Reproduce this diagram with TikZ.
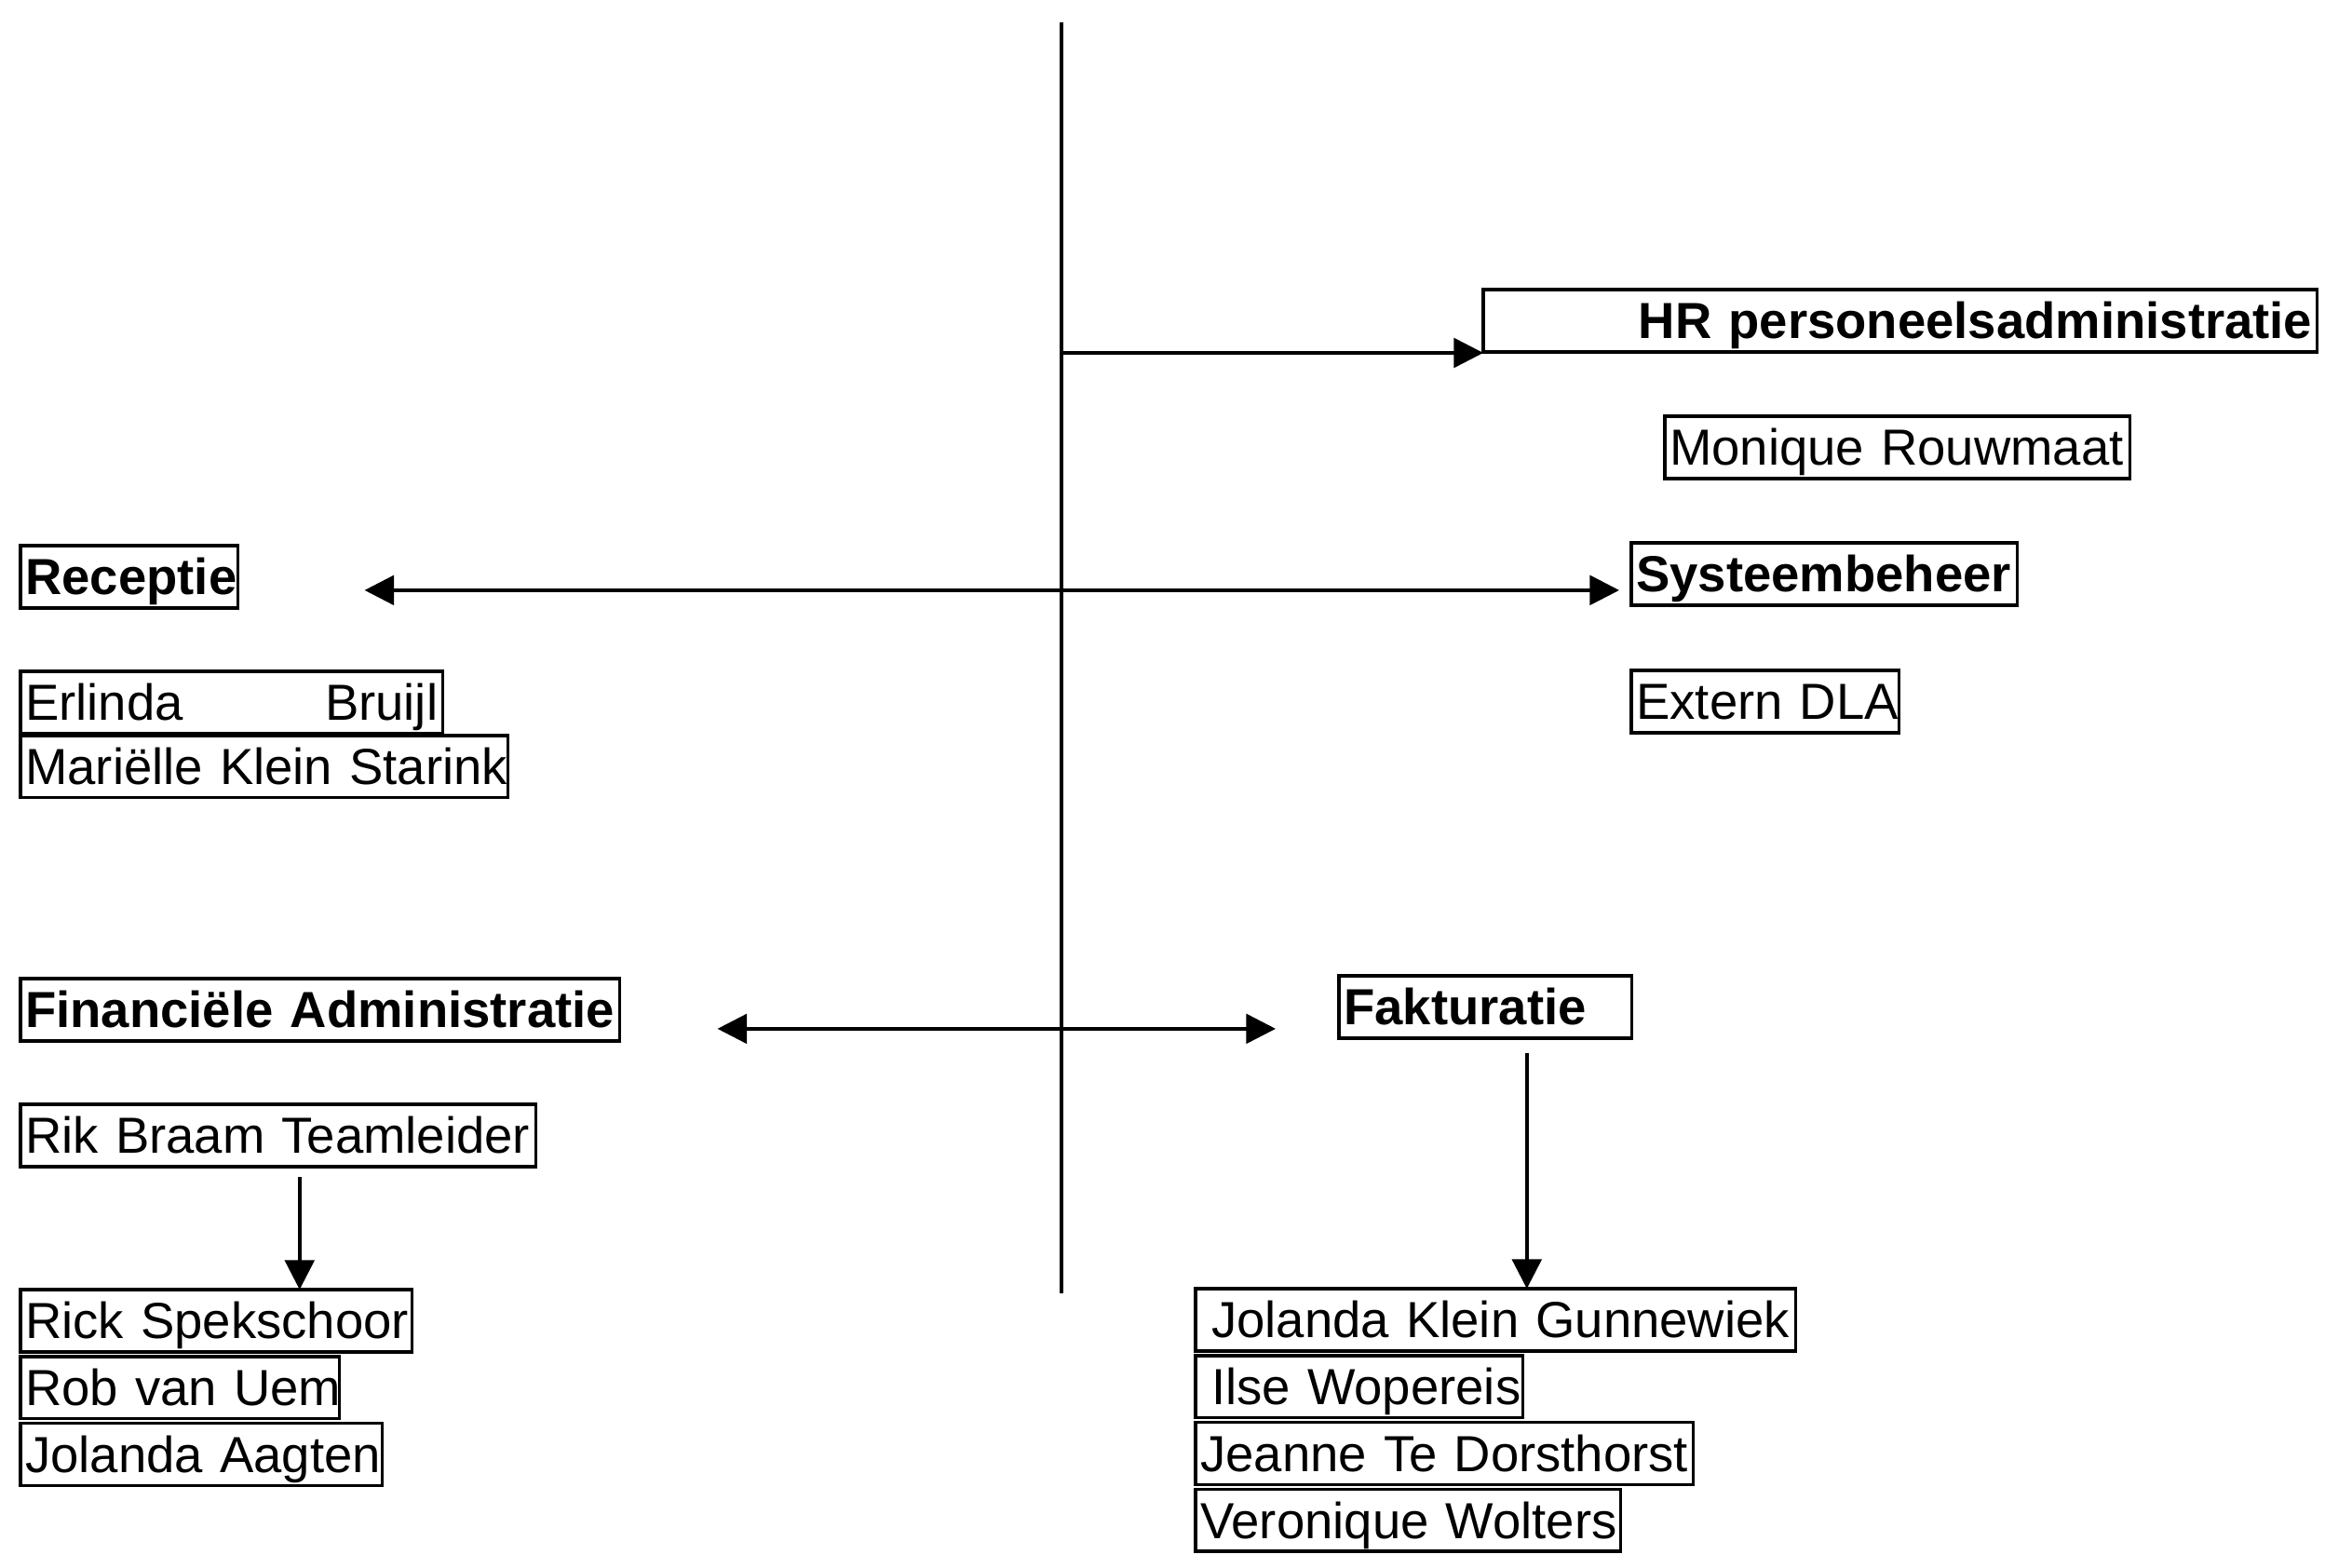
\documentclass[tikz,border=0pt]{standalone}
\usepackage{fontspec}
\setmainfont{Liberation Sans}
\usepackage{tikz}
\usetikzlibrary{positioning, arrows.meta}

\begin{document}
\begin{tikzpicture}[y=-1cm,
  caja/.style={draw, line width=1pt, anchor=north west, text height=14pt, text depth=3pt,
    inner xsep=1.5pt, inner ysep=1pt, outer sep=0pt, align=left, text width=#1,
    font=\fontsize{15.5}{18}\selectfont},
  jefe/.style={caja=#1, font=\fontsize{15.5}{18}\selectfont\bfseries},
  linea/.style={line width=1pt},
  flecha/.style={linea, -{Triangle[length=9pt,width=9pt]}},
  doble/.style={linea, {Triangle[length=9pt,width=9pt]}-{Triangle[length=9pt,width=9pt]}}]

\useasboundingbox (0,0) rectangle (24.97,16.84);

% Linea vertical central
\coordinate (arriba) at (11.40,0.24);
\coordinate (abajo) at (11.40,13.89);
\draw[linea] (arriba) -- (abajo);

% HR personeelsadministratie
\node[jefe=8.85cm, align=right] (hr) at (15.93,3.11) {HR~personeelsadministratie};
\node[caja=4.89cm] (monique) at (17.88,4.47) {Monique~Rouwmaat};
\coordinate (rama) at (11.40,3.79);  % salida desde la linea vertical
\draw[flecha] (rama) -- (rama -| hr.west);

% Receptie y Systeembeheer
\node[jefe=2.23cm] (receptie) at (0.22,5.86) {Receptie};
\node[caja=4.43cm] (erlinda) at (0.22,7.21) {Erlinda\hfill Bruijl};
\node[caja=5.13cm, below right=0.02cm and 0pt of erlinda.south west] (marielle) {Mariëlle~Klein~Starink};
\node[jefe=4.04cm] (systeem) at (17.52,5.83) {Systeembeheer};
\node[caja=2.77cm] (extern) at (17.52,7.20) {Extern~DLA};
\draw[doble, shorten <=1.36cm, shorten >=0.13cm]
  ([yshift=-0.145cm]receptie.east) -- ([yshift=-0.145cm]receptie.east -| systeem.west);

% Financiele Administratie
\node[jefe=6.33cm] (fin) at (0.22,10.51) {Financiële~Administratie};
\node[caja=5.43cm] (rik) at (0.22,11.86) {Rik~Braam~Teamleider};
\node[caja=4.10cm] (rick) at (0.22,13.85) {Rick~Spekschoor};
\node[caja=3.32cm, below right=0.05cm and 0pt of rick.south west] (rob) {Rob~van~Uem};
\node[caja=3.78cm, below right=0.05cm and 0pt of rob.south west] (jolanda) {Jolanda~Aagten};
\draw[flecha] ([xshift=0.23cm,yshift=-0.11cm]rik.south) -- ([xshift=0.23cm]rik.south |- rick.north);

% Fakturatie
\node[jefe=3.04cm] (fak) at (14.38,10.48) {Fakturatie};
\node[caja=6.34cm] (gunnewiek) at (12.84,13.84) {\mbox{\hspace{0.12cm}Jolanda Klein Gunnewiek}};
\node[caja=3.41cm, below right=0.05cm and 0pt of gunnewiek.south west] (ilse) {\mbox{\hspace{0.12cm}Ilse Wopereis}};
\node[caja=5.24cm, below right=0.05cm and 0pt of ilse.south west] (jeanne) {Jeanne~Te~Dorsthorst};
\node[caja=4.46cm, below right=0.05cm and 0pt of jeanne.south west] (veronique) {Veronique~Wolters};
\draw[flecha] ([xshift=0.445cm,yshift=-0.16cm]fak.south) -- ([xshift=0.445cm]fak.south |- gunnewiek.north);
\draw[doble, shorten <=1.05cm, shorten >=0.68cm]
  ([yshift=-0.205cm]fin.east) -- ([yshift=-0.205cm]fin.east -| fak.west);

\end{tikzpicture}
\end{document}
